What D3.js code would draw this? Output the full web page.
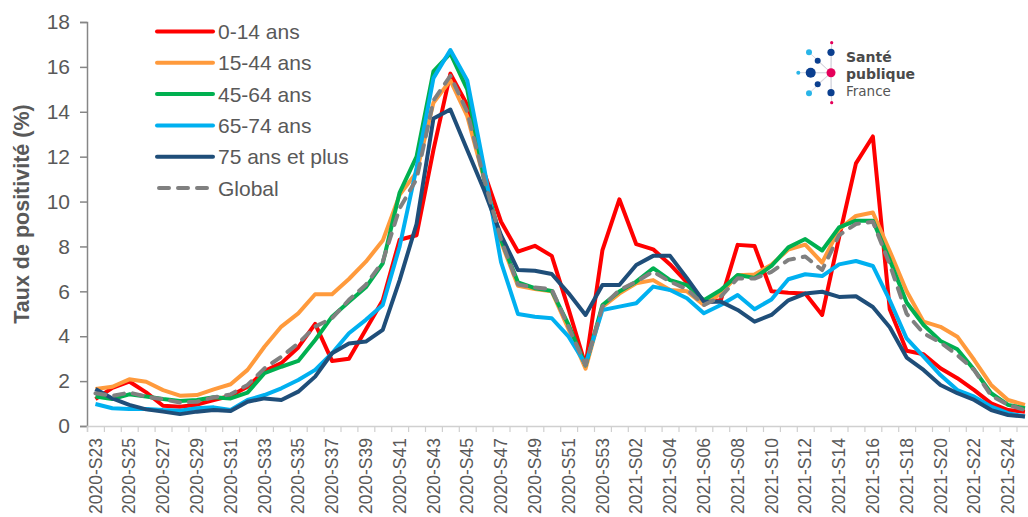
<!DOCTYPE html>
<html><head><meta charset="utf-8">
<script src="https://cdn.jsdelivr.net/npm/d3@7"></script>
<style>
body{margin:0;background:#fff}
svg{display:block}
text{font-family:"Liberation Sans",Arial,Helvetica,sans-serif;fill:#595959}
</style>
</head><body>
<svg id="chart" width="1028" height="517"></svg>
<script>
// ---- data ----
const weeks = [
 "2020-S23","2020-S24","2020-S25","2020-S26","2020-S27","2020-S28","2020-S29","2020-S30","2020-S31","2020-S32",
 "2020-S33","2020-S34","2020-S35","2020-S36","2020-S37","2020-S38","2020-S39","2020-S40","2020-S41","2020-S42",
 "2020-S43","2020-S44","2020-S45","2020-S46","2020-S47","2020-S48","2020-S49","2020-S50","2020-S51","2020-S52",
 "2020-S53","2021-S01","2021-S02","2021-S03","2021-S04","2021-S05","2021-S06","2021-S07","2021-S08","2021-S09",
 "2021-S10","2021-S11","2021-S12","2021-S13","2021-S14","2021-S15","2021-S16","2021-S17","2021-S18","2021-S19",
 "2021-S20","2021-S21","2021-S22","2021-S23","2021-S24","2021-S25"];
const yTicks = [0,2,4,6,8,10,12,14,16,18];
const seriesNames = ["0-14 ans","15-44 ans","45-64 ans","65-74 ans","75 ans et plus","Global"];

const age0_14 = [1.2,1.7,1.98,1.5,0.9,0.86,0.95,1.15,1.35,1.75,
 2.45,2.8,3.5,4.55,2.9,3.0,4.3,5.6,8.3,8.5,
 12.3,15.7,14.3,11.3,9.1,7.77,8.03,7.58,5.2,2.7,
 7.84,10.1,8.1,7.87,7.2,6.4,5.5,5.6,8.07,8.02,
 6.0,5.94,5.9,4.95,8.4,11.7,12.9,5.2,3.35,3.2,
 2.57,2.13,1.6,1.01,0.71,0.64];
const age15_44 = [1.65,1.75,2.08,1.97,1.6,1.35,1.38,1.63,1.86,2.5,
 3.53,4.43,5.02,5.87,5.87,6.55,7.32,8.26,10.3,11.3,
 14.4,15.4,13.8,11.0,8.2,6.25,6.1,6.0,4.3,2.55,
 5.3,5.9,6.36,6.5,6.06,6.0,5.39,5.9,6.72,6.75,
 7.19,7.86,8.08,7.28,8.76,9.36,9.51,7.8,6.0,4.65,
 4.42,3.98,2.94,1.83,1.16,0.94];
const age45_64 = [1.31,1.2,1.41,1.31,1.2,1.11,1.16,1.28,1.23,1.49,
 2.35,2.64,2.9,3.83,4.87,5.54,6.18,7.25,10.4,12.0,
 15.8,16.6,15.0,11.0,8.3,6.4,6.14,6.02,4.5,2.7,
 5.39,5.99,6.43,7.03,6.5,6.28,5.6,6.06,6.73,6.6,
 7.13,7.96,8.33,7.82,8.85,9.15,9.15,7.4,5.5,4.5,
 3.79,3.42,2.5,1.46,0.94,0.79];
const age65_74 = [0.98,0.79,0.76,0.76,0.71,0.68,0.79,0.83,0.71,1.16,
 1.38,1.68,2.05,2.5,3.24,4.13,4.73,5.39,8.0,11.5,
 15.5,16.75,15.4,11.5,7.3,4.99,4.87,4.8,3.98,2.75,
 5.17,5.32,5.47,6.21,6.06,5.69,5.02,5.39,5.84,5.2,
 5.64,6.54,6.76,6.68,7.2,7.35,7.13,5.6,3.9,3.09,
 2.27,1.6,1.31,0.86,0.57,0.42];
const age75plus = [1.65,1.23,0.94,0.74,0.64,0.53,0.64,0.71,0.67,1.08,
 1.23,1.16,1.53,2.2,3.24,3.68,3.76,4.28,6.5,9.0,
 13.7,14.1,12.3,10.5,8.5,6.95,6.92,6.77,5.91,4.95,
 6.28,6.28,7.17,7.58,7.58,6.58,5.54,5.54,5.17,4.65,
 4.95,5.6,5.9,5.98,5.75,5.78,5.3,4.4,3.05,2.5,
 1.83,1.46,1.16,0.71,0.49,0.42];
const globalRate = [1.46,1.34,1.49,1.31,1.19,1.05,1.08,1.28,1.41,1.83,
 2.57,3.09,3.68,4.43,4.8,5.62,6.29,7.33,9.7,11.0,
 14.5,15.6,14.0,11.0,8.3,6.3,6.17,6.09,4.4,2.7,
 5.32,6.06,6.43,6.88,6.43,6.1,5.39,5.76,6.58,6.57,
 6.87,7.4,7.55,6.95,8.5,9.0,9.1,7.2,5.0,4.13,
 3.72,3.16,2.49,1.35,0.94,0.71];

// ---- build ----
const colors = ["#ff0000","#ff9a3c","#00b050","#00b0f0","#1f4e79","#808080"];
const allValues = [age0_14, age15_44, age45_64, age65_74, age75plus, globalRate];
const series = seriesNames.map((n,i)=>({name:n, values:allValues[i], color:colors[i], dashed: i===5}));

const svg = d3.select("#chart");
const padL = 87, padT = 22, axisY = 426, step = 16.9;
const x = d3.scaleBand().domain(weeks).range([padL, padL + weeks.length*step]).padding(0);
const y = d3.scaleLinear().domain([0,18]).range([axisY, padT]);

// y axis
const yAxis = svg.append("g").attr("transform",`translate(${padL},0)`)
  .call(d3.axisLeft(y).tickValues(yTicks).tickSize(7).tickPadding(10).tickFormat(d3.format("d")));
yAxis.select(".domain").attr("stroke","#868686").attr("stroke-width",1.5);
yAxis.selectAll(".tick line").attr("stroke","#868686").attr("stroke-width",1.5);
yAxis.selectAll("text").style("font-size","21px").attr("fill","#595959");

// x axis: ticks at band boundaries
const xi = d3.scaleLinear().domain([0, weeks.length]).range([padL, padL + weeks.length*step]);
const xTickG = svg.append("g").attr("transform",`translate(0,${axisY})`)
  .call(d3.axisBottom(xi).tickValues(d3.range(0, weeks.length+1)).tickSize(6).tickFormat(""));
xTickG.select(".domain").attr("stroke","#d0d0d0").attr("stroke-width",1.5);
xTickG.selectAll(".tick line").attr("stroke","#d0d0d0").attr("stroke-width",1.2);

const xLab = svg.append("g").attr("transform",`translate(0,${axisY})`)
  .call(d3.axisBottom(x).tickValues(weeks.filter((w,i)=>i%2===0)).tickSize(0).tickPadding(0));
xLab.select(".domain").remove();
xLab.selectAll("text")
  .style("font-size","17.5px").attr("fill","#595959")
  .attr("text-anchor","end").attr("dy","0.35em")
  .attr("transform","translate(0,12) rotate(-90)").attr("y",0).attr("x",0);

// y title
svg.append("text").attr("transform","translate(22,214) rotate(-90)")
  .attr("text-anchor","middle").attr("dominant-baseline","central")
  .style("font-size","21.5px").style("font-weight","bold")
  .text("Taux de positivité  (%)");

// lines
const line = d3.line().x((d,i)=>x(weeks[i]) + x.bandwidth()/2).y(d=>y(d));
svg.append("g").selectAll("path").data(series).join("path")
  .attr("d", d=>line(d.values))
  .attr("fill","none").attr("stroke",d=>d.color).attr("stroke-width",4)
  .attr("stroke-linejoin","round")
  .attr("stroke-linecap",d=>d.dashed?"round":"butt")
  .attr("stroke-dasharray",d=>d.dashed?"10,9":null);

// legend
const lg = svg.append("g").selectAll("g").data(series).join("g")
  .attr("transform",(d,i)=>`translate(157,${31.5 + i*31.3})`);
lg.append("line").attr("x1",d=>d.dashed?2:0).attr("x2",d=>d.dashed?53:56)
  .attr("stroke",d=>d.color).attr("stroke-width",4)
  .attr("stroke-linecap","round")
  .attr("stroke-dasharray",d=>d.dashed?"10,9":null);
lg.append("text").attr("x",61).attr("dominant-baseline","central")
  .style("font-size","21px").text(d=>d.name);

// logo
const logo = svg.append("g");
const hub = [831,72.7];
const dots = [
 [831.7,42.7,1.6,"#e5005a"],[831,52.3,3.6,"#0b3f8f"],[809,52.3,3,"#29b5e8"],
 [817.7,60.7,3,"#0b3f8f"],[798.3,72.7,2,"#29b5e8"],[810.7,72.7,5,"#0b3f8f"],
 [817.7,84.3,3,"#0b3f8f"],[809,93.3,3,"#29b5e8"],[831,92.7,3.6,"#0b3f8f"],
 [831.7,102.7,1.6,"#e5005a"]];
logo.selectAll("line").data(dots).join("line")
  .attr("x1",hub[0]).attr("y1",hub[1]).attr("x2",d=>d[0]).attr("y2",d=>d[1])
  .attr("stroke","#d8d8e0").attr("stroke-width",1);
logo.selectAll("circle").data(dots).join("circle")
  .attr("cx",d=>d[0]).attr("cy",d=>d[1]).attr("r",d=>d[2]).attr("fill",d=>d[3]);
logo.append("circle").attr("cx",hub[0]).attr("cy",hub[1]).attr("r",4.5).attr("fill","#e5005a");
const logoFont = '"DejaVu Sans",sans-serif';
logo.append("text").attr("x",846).attr("y",62).style("font-family",logoFont).style("font-size","14px").style("font-weight","bold").style("fill","#4a4a4a").text("Santé");
logo.append("text").attr("x",846).attr("y",78.5).style("font-family",logoFont).style("font-size","14px").style("font-weight","bold").style("fill","#4a4a4a").text("publique");
logo.append("text").attr("x",846).attr("y",95.5).style("font-family",logoFont).style("font-size","13.5px").style("fill","#555").text("France");
</script>
</body></html>
